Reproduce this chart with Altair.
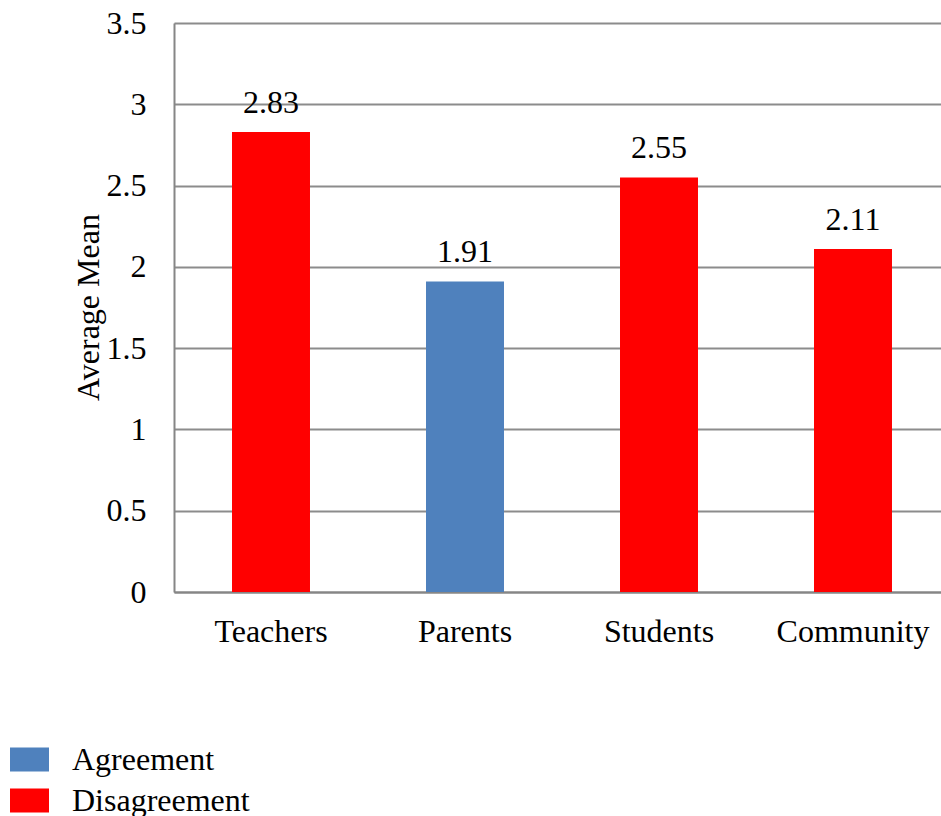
import altair as alt
import pandas as pd

# Survey groups and their average mean scores
categories = ["Teachers", "Parents", "Students", "Community"]
means = [2.83, 1.91, 2.55, 2.11]
groups = ["Disagreement", "Agreement", "Disagreement", "Disagreement"]

group_order = ["Agreement", "Disagreement"]
bar_colors = ["#4F81BD", "#FF0000"]
y_ticks = [0, 0.5, 1, 1.5, 2, 2.5, 3, 3.5]

df = pd.DataFrame({"category": categories, "mean": means, "group": groups})

FONT = "Liberation Serif"
FS = 32

# The category band runs a little past the right edge of the view
x = alt.X(
    "category:N",
    sort=categories,
    title=None,
    scale=alt.Scale(range=[0, 776], paddingInner=0.598, paddingOuter=0.299),
    axis=alt.Axis(
        labelAngle=0,
        ticks=False,
        labelPadding=24,
        domainColor="#868686",
        domainWidth=2,
        labelFont=FONT,
        labelFontSize=FS,
        labelColor="black",
        grid=False,
    ),
)
y = alt.Y(
    "mean:Q",
    scale=alt.Scale(domain=[0, 3.5], nice=False),
    axis=alt.Axis(
        values=y_ticks,
        format="~g",
        title="Average Mean",
        titleFont=FONT,
        titleFontSize=FS,
        titleFontWeight="normal",
        titleColor="black",
        titleAngle=-90,
        titleX=-86,
        titleY=284,
        titleAlign="center",
        titleBaseline="middle",
        ticks=False,
        labelPadding=28,
        labelFont=FONT,
        labelFontSize=FS,
        labelColor="black",
        domainColor="#868686",
        domainWidth=2,
        gridColor="#8c8c8c",
        gridWidth=2,
    ),
)

bars = alt.Chart(df).mark_bar().encode(
    x=x,
    y=y,
    color=alt.Color(
        "group:N",
        scale=alt.Scale(domain=group_order, range=bar_colors),
        legend=alt.Legend(
            title=None,
            orient="none",
            legendX=-164,
            legendY=717,
            symbolType="M-1,-0.615H1V0.615H-1Z",
            symbolSize=1521,
            symbolStrokeWidth=0,
            symbolOpacity=1,
            labelFont=FONT,
            labelFontSize=FS,
            labelColor="black",
            labelOffset=23,
            labelLimit=400,
            rowPadding=5,
            padding=0,
        ),
    ),
)

labels = alt.Chart(df).mark_text(
    font=FONT, fontSize=FS, color="black", baseline="alphabetic", dy=-19
).encode(
    x=alt.X("category:N", sort=categories),
    y=alt.Y("mean:Q"),
    text=alt.Text("mean:Q", format=".2f"),
)

chart = (
    alt.layer(bars, labels)
    .properties(
        width=767,
        height=569,
        autosize=alt.AutoSizeParams(type="none"),
        padding={"left": 174, "top": 23, "right": 0, "bottom": 224},
    )
    .configure_view(stroke=None)
    .configure(background="white")
)

chart.save("out.html", embed_options={"renderer": "svg", "actions": False})
